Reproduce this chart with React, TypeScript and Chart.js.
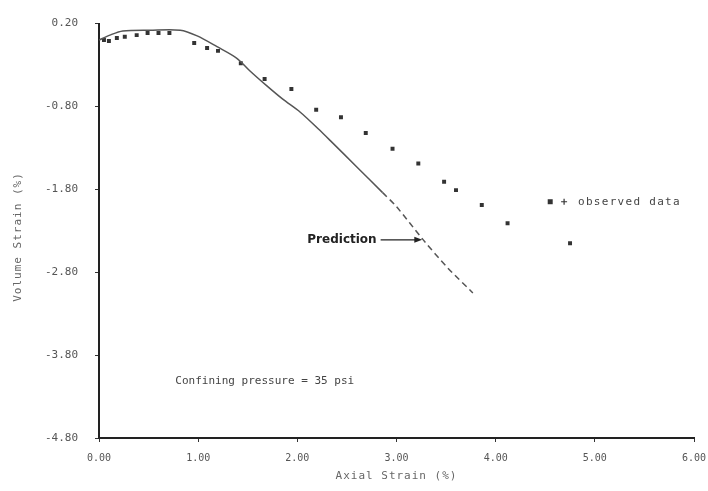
import React, { useEffect, useRef } from "react";
import { Chart, registerables } from "chart.js";

Chart.register(...registerables);

const xTickValues = [0, 1, 2, 3, 4, 5, 6];
const xTickLabels = ["0.00", "1.00", "2.00", "3.00", "4.00", "5.00", "6.00"];
const yTickValues = [0.2, -0.8, -1.8, -2.8, -3.8, -4.8];
const yTickLabels = ["0.20", "-0.80", "-1.80", "-2.80", "-3.80", "-4.80"];

const predictionX = [0, 0.11, 0.24, 0.51, 0.82, 0.99, 1.19, 1.39, 1.52, 1.69, 1.85, 2.03, 2.21, 2.33, 2.6, 2.86, 3.0, 3.27, 3.51, 3.77];
const predictionY = [0, 0.06, 0.11, 0.12, 0.12, 0.05, -0.08, -0.22, -0.37, -0.55, -0.71, -0.87, -1.07, -1.21, -1.53, -1.84, -2.01, -2.41, -2.74, -3.05];

const observedX = [0.05, 0.1, 0.18, 0.26, 0.38, 0.49, 0.6, 0.71, 0.96, 1.09, 1.2, 1.43, 1.67, 1.94, 2.19, 2.44, 2.69, 2.96, 3.22, 3.48, 3.6, 3.86, 4.12, 4.75];
const observedY = [0.0, -0.01, 0.025, 0.04, 0.06, 0.085, 0.085, 0.085, -0.035, -0.095, -0.13, -0.28, -0.47, -0.59, -0.84, -0.93, -1.12, -1.31, -1.49, -1.71, -1.81, -1.99, -2.21, -2.45];

const xTitle = "Axial Strain (%)";
const yTitle = "Volume Strain (%)";
const predictionLabel = "Prediction";
const legendLabel = "observed data";
const noteLabel = "Confining pressure = 35 psi";

const MONO = '"DejaVu Sans Mono", monospace';

const annotations = {
  id: "annotations",
  afterDraw(chart: any) {
    const { ctx, scales, chartArea } = chart;
    const x = scales.x;
    const y = scales.y;
    const px = (v: number) => x.getPixelForValue(v);
    const py = (v: number) => y.getPixelForValue(v);
    ctx.save();

    // Prediction label + arrow
    const ay = py(-2.41);
    const ax0 = px(2.84);
    const ax1 = px(3.26);
    ctx.fillStyle = "#222";
    ctx.font = 'bold 12px "DejaVu Sans"';
    ctx.textAlign = "right";
    ctx.textBaseline = "middle";
    ctx.fillText(predictionLabel, ax0 - 4, ay);
    ctx.strokeStyle = "#222";
    ctx.lineWidth = 1.2;
    ctx.beginPath();
    ctx.moveTo(ax0, ay);
    ctx.lineTo(ax1 - 6, ay);
    ctx.stroke();
    ctx.beginPath();
    ctx.moveTo(ax1, ay);
    ctx.lineTo(ax1 - 8, ay - 3);
    ctx.lineTo(ax1 - 8, ay + 3);
    ctx.closePath();
    ctx.fill();

    // Confining pressure note
    ctx.fillStyle = "#444";
    ctx.font = "11px " + MONO;
    ctx.textAlign = "left";
    ctx.fillText(noteLabel, px(0.77), py(-4.11));

    // Legend
    const ly = py(-1.95);
    ctx.fillStyle = "#333";
    ctx.fillRect(px(4.55) - 2.5, ly - 2.5, 5, 5);
    ctx.strokeStyle = "#333";
    ctx.lineWidth = 1.2;
    const pxp = px(4.69);
    ctx.beginPath();
    ctx.moveTo(pxp - 3, ly);
    ctx.lineTo(pxp + 3, ly);
    ctx.moveTo(pxp, ly - 3);
    ctx.lineTo(pxp, ly + 3);
    ctx.stroke();
    ctx.fillStyle = "#444";
    ctx.font = "11px " + MONO;
    (ctx as any).letterSpacing = "1.3px";
    ctx.fillText(legendLabel, px(4.83), ly);

    // Axis titles
    ctx.fillStyle = "#666";
    (ctx as any).letterSpacing = "1px";
    ctx.textAlign = "center";
    ctx.fillText(xTitle, (chartArea.left + chartArea.right) / 2, 476);
    ctx.translate(18, 237);
    ctx.rotate(-Math.PI / 2);
    ctx.fillText(yTitle, 0, 0);
    ctx.restore();
  },
};

export default function App() {
  const ref = useRef<HTMLCanvasElement>(null);
  useEffect(() => {
    const canvas = ref.current;
    if (!canvas) return;
    const chart = new Chart(canvas, {
      type: "scatter",
      data: {
        datasets: [
          {
            label: "Prediction",
            data: predictionX.map((v, i) => ({ x: v, y: predictionY[i] })),
            showLine: true,
            pointRadius: 0,
            borderColor: "#555",
            borderWidth: 1.5,
            tension: 0.3,
            segment: {
              borderDash: (c: any) => (c.p0.parsed.x >= 2.86 ? [6, 4] : undefined),
            },
          },
          {
            label: "observed data",
            data: observedX.map((v, i) => ({ x: v, y: observedY[i] })),
            showLine: false,
            pointStyle: "rect",
            pointRadius: 2.8,
            backgroundColor: "#333",
            borderColor: "#333",
            borderWidth: 0,
          },
        ],
      },
      options: {
        animation: false,
        responsive: true,
        maintainAspectRatio: false,
        layout: { padding: { left: 0, top: 23.5, right: 14, bottom: 0 } },
        plugins: { legend: { display: false }, tooltip: { enabled: false } },
        scales: {
          x: {
            type: "linear",
            min: 0,
            max: 6,
            afterBuildTicks: (s: any) => {
              s.ticks = xTickValues.map((v) => ({ value: v }));
            },
            afterFit: (s: any) => {
              s.height = 53;
              s.paddingLeft = 0;
              s.paddingRight = 0;
            },
            ticks: {
              callback: (_v: any, i: number) => xTickLabels[i],
              font: { family: MONO, size: 10 },
              color: "#555",
              padding: 10,
              maxRotation: 0,
            },
            grid: { drawOnChartArea: false, drawTicks: true, tickLength: 4, color: "#333" },
            border: { color: "#222", width: 2 },
          },
          y: {
            type: "linear",
            min: -4.8,
            max: 0.2,
            afterBuildTicks: (s: any) => {
              s.ticks = yTickValues.map((v) => ({ value: v }));
            },
            afterFit: (s: any) => {
              s.width = 99;
              s.paddingTop = 0;
              s.paddingBottom = 0;
            },
            ticks: {
              callback: (_v: any, i: number) => yTickLabels[i],
              font: { family: MONO, size: 11 },
              color: "#555",
              padding: 17,
            },
            grid: { drawOnChartArea: false, drawTicks: true, tickLength: 4, color: "#333" },
            border: { color: "#222", width: 2 },
          },
        },
      },
      plugins: [annotations],
    } as any);
    return () => chart.destroy();
  }, []);
  return (
    <div style={{ position: "fixed", left: 0, top: 0, width: 708, height: 491, background: "#fff" }}>
      <canvas ref={ref} />
    </div>
  );
}
